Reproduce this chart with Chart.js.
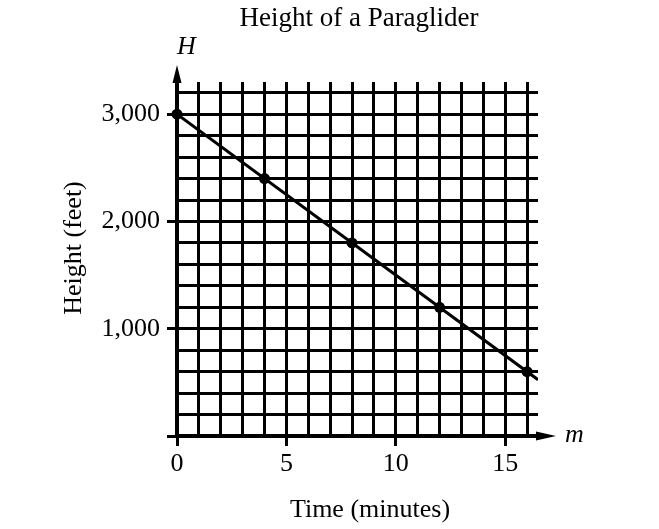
<!DOCTYPE html>
<html>
<head>
<meta charset="utf-8">
<title>Height of a Paraglider</title>
<script src="https://cdn.jsdelivr.net/npm/chart.js@4.4.1/dist/chart.umd.min.js"></script>
<style>
  html, body { margin: 0; padding: 0; background: #fff; }
  #wrap { width: 659px; height: 529px; position: relative; }
</style>
</head>
<body>
<div id="wrap"><canvas id="myChart"></canvas></div>
<script>
const timeMinutes = [0, 4, 8, 12, 16];
const heightFeet = [3000, 2400, 1800, 1200, 600];
// the drawn line carries on past the last point to the edge of the grid
const lineMinutes = [0, 16.5];
const lineFeet = [3000, 525];
const xTickLabels = [0, 5, 10, 15];
const yTickLabels = [1000, 2000, 3000];

const serif = '"Liberation Serif", "Times New Roman", serif';
const ink = '#000';

const ctx = document.getElementById('myChart');

// arrow heads, axis letters and titles
const axisDecor = {
    id: 'axisDecor',
    afterDraw(chart) {
        const c = chart.ctx;
        const a = chart.chartArea;
        const x0 = chart.scales.x.getPixelForValue(0);
        const y0 = chart.scales.y.getPixelForValue(0);
        c.save();
        c.fillStyle = ink;
        c.beginPath();
        c.moveTo(x0 - 4.5, a.top + 1);
        c.lineTo(x0, a.top - 17);
        c.lineTo(x0 + 4.5, a.top + 1);
        c.closePath();
        c.fill();
        c.beginPath();
        c.moveTo(a.right - 2, y0 - 4.5);
        c.lineTo(a.right + 18, y0);
        c.lineTo(a.right - 2, y0 + 4.5);
        c.closePath();
        c.fill();

        c.textBaseline = 'alphabetic';
        c.textAlign = 'center';
        c.font = '27px ' + serif;
        c.fillText('Height of a Paraglider', 359, 26);
        c.font = '26px ' + serif;
        c.fillText('Time (minutes)', 370, 517);
        c.save();
        c.translate(81, 248);
        c.rotate(-Math.PI / 2);
        c.fillText('Height (feet)', 0, 0);
        c.restore();
        c.font = 'italic 26px ' + serif;
        c.textAlign = 'left';
        c.fillText('H', 177, 54);
        c.fillText('m', 565, 442);
        c.restore();
    }
};

new Chart(ctx, {
    type: 'scatter',
    data: {
        datasets: [{
            label: 'line',
            data: lineMinutes.map((m, i) => ({ x: m, y: lineFeet[i] })),
            showLine: true,
            borderColor: ink,
            borderWidth: 3,
            pointRadius: 0,
        }, {
            label: 'Height',
            data: timeMinutes.map((m, i) => ({ x: m, y: heightFeet[i] })),
            showLine: false,
            pointRadius: 5.5,
            pointBackgroundColor: ink,
            pointBorderColor: ink,
            pointBorderWidth: 0,
            clip: false,
        }]
    },
    options: {
        responsive: true,
        maintainAspectRatio: false,
        animation: false,
        layout: { padding: { top: 82, right: 121, left: 0, bottom: 0 } },
        plugins: {
            legend: { display: false },
            tooltip: { enabled: false },
        },
        scales: {
            x: {
                type: 'linear',
                min: 0,
                max: 16.5,
                ticks: {
                    stepSize: 1,
                    autoSkip: false,
                    includeBounds: false,
                    maxRotation: 0,
                    padding: 3,
                    color: ink,
                    font: { family: serif, size: 26 },
                    callback: v => xTickLabels.includes(v) ? String(v) : '',
                },
                grid: {
                    color: ink,
                    lineWidth: 3,
                    tickLength: 10,
                    tickColor: c => (c.tick && xTickLabels.includes(c.tick.value)) ? ink : 'rgba(0,0,0,0)',
                },
                border: { color: ink, width: 3.5 },
                afterFit(s) { s.height = 93; },
            },
            y: {
                type: 'linear',
                min: 0,
                max: 3300,
                ticks: {
                    stepSize: 200,
                    autoSkip: false,
                    includeBounds: false,
                    padding: 7,
                    color: ink,
                    font: { family: serif, size: 26 },
                    callback: v => yTickLabels.includes(v) ? v.toLocaleString('en-US') : '',
                },
                grid: {
                    color: ink,
                    lineWidth: 3,
                    tickLength: 10,
                    tickColor: c => (c.tick && (c.tick.value === 0 || yTickLabels.includes(c.tick.value))) ? ink : 'rgba(0,0,0,0)',
                },
                border: { color: ink, width: 3.5 },
                afterFit(s) { s.width = 177; },
            }
        }
    },
    plugins: [axisDecor]
});
</script>
</body>
</html>
